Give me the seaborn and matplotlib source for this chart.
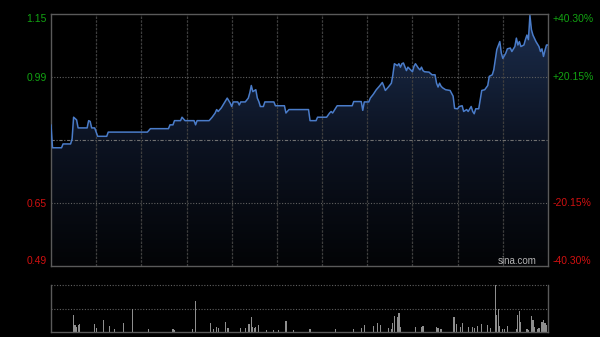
import numpy as np
import pandas as pd
import matplotlib
matplotlib.use("Agg")
import matplotlib.pyplot as plt
import seaborn as sns
from matplotlib.colors import LinearSegmentedColormap

# ---------------- data ----------------
minutes = [0, 1, 7, 8, 13, 14, 15, 17, 18, 24, 25, 26, 27, 29, 31, 37, 38, 64, 66, 78,
           79, 81, 82, 86, 87, 89, 95, 96, 97, 105, 107, 109, 110, 111, 113, 115, 117, 119, 120, 121,
           124, 125, 126, 129, 131, 132, 133, 134, 136, 137, 138, 139, 141, 142, 148, 149, 155, 156, 158, 171,
           172, 176, 177, 183, 185, 186, 187, 190, 200, 201, 206, 207, 208, 211, 212, 214, 216, 218, 220, 221,
           222, 224, 226, 227, 228, 230, 231, 232, 233, 234, 236, 237, 238, 240, 241, 242, 244, 245, 246, 247,
           248, 251, 253, 255, 256, 257, 258, 259, 260, 262, 265, 267, 268, 270, 271, 273, 274, 276, 277, 279,
           280, 281, 282, 284, 286, 288, 290, 291, 293, 294, 295, 296, 298, 299, 300, 302, 303, 305, 306, 308,
           309, 310, 311, 312, 314, 315, 316, 317, 318, 319, 320, 322, 324, 325, 326, 327, 328, 329, 330]
prices = [0.859, 0.799, 0.799, 0.809, 0.809, 0.822, 0.879, 0.872, 0.851, 0.851, 0.870, 0.868, 0.851, 0.851, 0.829, 0.829, 0.840, 0.840, 0.849, 0.849,
          0.859, 0.859, 0.870, 0.870, 0.879, 0.870, 0.870, 0.859, 0.870, 0.870, 0.879, 0.890, 0.899, 0.894, 0.903, 0.916, 0.929, 0.916, 0.907, 0.919,
          0.919, 0.911, 0.919, 0.919, 0.929, 0.943, 0.962, 0.946, 0.951, 0.929, 0.920, 0.907, 0.907, 0.919, 0.919, 0.909, 0.909, 0.890, 0.899, 0.899,
          0.870, 0.870, 0.879, 0.879, 0.890, 0.894, 0.890, 0.909, 0.909, 0.920, 0.920, 0.897, 0.919, 0.919, 0.929, 0.939, 0.951, 0.960, 0.970, 0.960,
          0.949, 0.958, 0.968, 0.990, 1.019, 1.014, 1.019, 1.010, 1.019, 1.021, 1.001, 1.010, 1.006, 0.998, 1.012, 1.019, 1.007, 1.003, 1.010, 1.001,
          0.998, 0.997, 0.990, 0.990, 0.968, 0.958, 0.968, 0.960, 0.956, 0.951, 0.949, 0.934, 0.902, 0.901, 0.907, 0.909, 0.894, 0.899, 0.894, 0.907,
          0.894, 0.888, 0.901, 0.901, 0.949, 0.951, 0.962, 0.986, 0.990, 1.003, 1.030, 1.056, 1.077, 1.047, 1.033, 1.047, 1.058, 1.060, 1.051, 1.064,
          1.086, 1.068, 1.077, 1.064, 1.068, 1.082, 1.094, 1.082, 1.145, 1.108, 1.094, 1.077, 1.064, 1.051, 1.058, 1.038, 1.054, 1.068, 1.068]

vol_minutes = [15, 16, 17, 18, 19, 29, 30, 35, 39, 42, 48, 54, 65, 81, 82, 94, 96, 106, 108, 110,
               111, 116, 117, 118, 126, 129, 131, 132, 133, 134, 135, 136, 138, 143, 148, 151, 156, 161, 172, 189,
               201, 206, 208, 214, 217, 219, 224, 226, 227, 228, 230, 231, 232, 242, 246, 247, 256, 257, 259, 267,
               268, 269, 272, 273, 277, 280, 281, 283, 286, 290, 292, 295, 296, 297, 298, 300, 301, 303, 309, 310,
               311, 312, 316, 317, 319, 320, 321, 323, 324, 326, 327, 328, 329]
vol_values = [50, 20, 13, 20, 23, 23, 10, 35, 18, 7, 27, 67, 7, 7, 5, 7, 92, 27, 7, 13,
              10, 30, 10, 10, 10, 10, 23, 23, 43, 13, 10, 15, 20, 5, 5, 5, 33, 5, 7, 7,
              7, 10, 20, 18, 27, 20, 10, 8, 25, 48, 45, 57, 15, 15, 15, 17, 13, 10, 7, 43,
              45, 23, 15, 25, 13, 13, 10, 17, 23, 20, 10, 140, 50, 67, 17, 7, 7, 17, 7, 50,
              63, 30, 7, 5, 47, 35, 15, 7, 10, 30, 35, 25, 20]

prev_close = 0.82
pct_levels = [40.30, 20.15, -20.15, -40.30]
pct_labels = ["+40.30%", "+20.15%", "-20.15%", "-40.30%"]
grid_minutes = [30, 60, 90, 120, 150, 180, 210, 240, 270, 300]
vol_grid = [68, 140]
watermark = "sina.com"

# ---------------- style ----------------
sns.set_theme(style="dark", rc={
    "figure.facecolor": "black",
    "axes.facecolor": "black",
    "axes.edgecolor": "#5a5a5a",
    "axes.linewidth": 1.0,
    "savefig.facecolor": "black",
})
plt.rcParams["font.family"] = ["Liberation Sans", "DejaVu Sans"]

W, H = 600, 337
fig = plt.figure(figsize=(6.0, 3.37), dpi=100, facecolor="black")
ax = fig.add_axes([51 / W, 1 - 266 / H, 497 / W, (266 - 13.5) / H])
axv = fig.add_axes([51 / W, 1 - 331.7 / H, 497 / W, (331.7 - 285) / H])

level_prices = [prev_close * (1 + p / 100) for p in pct_levels]
ylo, yhi = level_prices[-1], level_prices[0]

price_df = pd.DataFrame({"minute": minutes, "price": prices})

# gradient fill under the line
fill = ax.fill_between(price_df["minute"], price_df["price"], ylo,
                       facecolor="none", edgecolor="none")
cmap = LinearSegmentedColormap.from_list("navy", ["#030406", "#0c1322", "#1c2e4e"])
grad = np.linspace(0, 1, 256).reshape(-1, 1)
im = ax.imshow(grad, extent=[0, 330, ylo, yhi], origin="lower", aspect="auto",
               cmap=cmap, zorder=1, interpolation="bilinear")
im.set_clip_path(fill.get_paths()[0], transform=ax.transData)

sns.lineplot(data=price_df, x="minute", y="price", ax=ax, color="#4a7cc9",
             linewidth=1.1, zorder=4)

ax.set_xlim(0, 330)
ax.set_ylim(ylo, yhi)
ax.grid(False)

for m in grid_minutes:
    ax.axvline(m, color="#3e3e3e", lw=0.9, ls=(0, (2, 1)), zorder=2)
for lp in level_prices[1:3]:
    ax.axhline(lp, color="#606060", lw=0.8, ls=(0, (1, 1.5)), zorder=2)
ax.axhline(prev_close, color="#707070", lw=0.8, ls=(0, (3, 1.5, 1, 1.5)), zorder=2)

green, red = "#12a312", "#d01010"
colors = [green, green, red, red]
ax.set_yticks(level_prices)
ax.set_yticklabels([f"{v:.2f}" for v in level_prices])
ax.set_xticks([])
ax.tick_params(axis="y", length=0, pad=3, labelsize=7.5)
labels = ax.get_yticklabels()
for lab, col in zip(labels, colors):
    lab.set_color(col)
labels[0].set_va("top")
labels[-1].set_va("bottom")
ax.set_xlabel("")
ax.set_ylabel("")

vas = ["top", "center", "center", "bottom"]
for lp, lab, col, va in zip(level_prices, pct_labels, colors, vas):
    ax.annotate(lab, xy=(1, lp), xycoords=("axes fraction", "data"),
                xytext=(3.6, 0), textcoords="offset points",
                ha="left", va=va, color=col, fontsize=7.5)

for s in ax.spines.values():
    s.set_visible(True)
    s.set_color("#5a5a5a")
    s.set_linewidth(1.0)

ax.text(1 - 11 / 497, 4.5 / 252.5, watermark, transform=ax.transAxes,
        ha="right", va="center", color="#b4b4b4", fontsize=7, zorder=5)

# ---------------- volume ----------------
vol_df = pd.DataFrame({"minute": vol_minutes, "volume": vol_values})
sns.histplot(data=vol_df, x="minute", weights="volume", discrete=True,
             ax=axv, color="#8e8e8e", alpha=1.0, linewidth=0,
             element="bars", shrink=0.8)
axv.set_xlim(0, 330)
axv.set_ylim(0, 140)
axv.grid(False)
axv.set_xticks([])
axv.set_yticks([])
axv.set_xlabel("")
axv.set_ylabel("")
for g in vol_grid:
    axv.axhline(g, color="#606060", lw=0.8, ls=(0, (1, 1.5)), clip_on=False, zorder=0.5)
axv.spines["top"].set_visible(False)
for k in ["left", "right", "bottom"]:
    axv.spines[k].set_visible(True)
    axv.spines[k].set_color("#5a5a5a")
    axv.spines[k].set_linewidth(1.0)

fig.savefig("out.png", dpi=100, facecolor="black")
